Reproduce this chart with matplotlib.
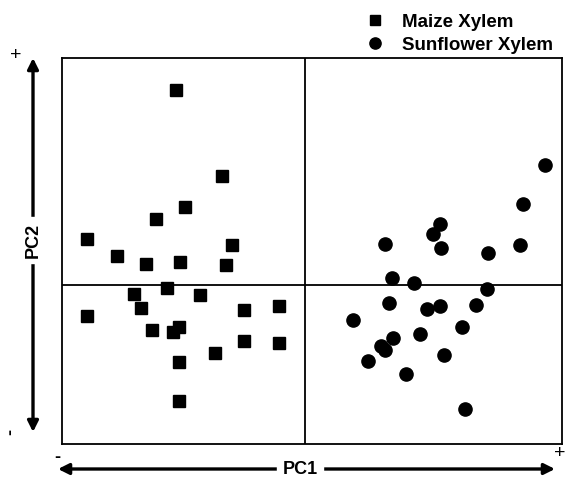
import matplotlib.pyplot as plt

plt.rcParams['font.family'] = ['Liberation Sans', 'DejaVu Sans']

# PCA scores (arbitrary units, origin at the crossing lines)
maize_pc1 = [-2.58, -1.66, -2.41, -2.99, -4.37, -1.46, -3.77, -3.19, -2.51, -1.58,
             -2.76, -3.42, -2.10, -3.29, -4.37, -1.22, -0.53, -3.06, -2.52, -2.65,
             -1.22, -0.53, -1.81, -2.53, -2.53]
maize_pc2 = [3.91, 2.19, 1.56, 1.33, 0.93, 0.81, 0.59, 0.42, 0.46, 0.41,
             -0.05, -0.17, -0.19, -0.45, -0.61, -0.49, -0.41, -0.90, -0.84, -0.93,
             -1.11, -1.15, -1.35, -1.54, -2.31]

sun_pc1 = [4.79, 4.36, 2.70, 2.55, 1.59, 2.72, 3.66, 4.29, 1.74, 2.18,
           3.64, 1.67, 2.44, 2.69, 3.41, 0.96, 3.14, 2.29, 1.76, 1.51,
           1.60, 2.77, 1.25, 2.02, 3.19]
sun_pc2 = [2.41, 1.63, 1.23, 1.03, 0.83, 0.75, 0.65, 0.80, 0.14, 0.05,
           -0.08, -0.35, -0.48, -0.41, -0.39, -0.69, -0.83, -0.98, -1.05, -1.21,
           -1.29, -1.39, -1.51, -1.77, -2.47]

fig = plt.figure(figsize=(5.67, 4.79), dpi=100)
ax = fig.add_axes([62/567, 35/479, 500/567, 386/479])

ax.plot(maize_pc1, maize_pc2, 's', color='black', ms=8, label='Maize Xylem')
ax.plot(sun_pc1, sun_pc2, 'o', color='black', ms=9.5, label='Sunflower Xylem')
ax.axhline(0, color='black', lw=1.3)
ax.axvline(0, color='black', lw=1.3)
ax.set_xlim(-4.86, 5.14)
ax.set_ylim(-3.18, 4.54)
ax.set_xticks([])
ax.set_yticks([])
for s in ax.spines.values():
    s.set_linewidth(1.3)

fig.legend(loc='upper right', bbox_to_anchor=(560/567, 1 - 6/479), frameon=False,
           prop={'weight': 'bold', 'size': 13.5}, handletextpad=0.8,
           labelspacing=0.32, handlelength=1.2, borderaxespad=0,
           markerscale=0.85)

arrow = dict(arrowstyle='<|-|>', color='black', lw=2.4, mutation_scale=16,
             shrinkA=0, shrinkB=0)
# PC2 axis arrow (left)
ax.annotate('', xy=(33, 479 - 58), xytext=(33, 479 - 432),
            xycoords='figure pixels', textcoords='figure pixels', arrowprops=arrow)
fig.text(33/567, 1 - 240/479, 'PC2', rotation=90, ha='center', va='center',
         fontsize=13, fontweight='bold', backgroundcolor='white')
fig.text(16/567, 1 - 55/479, '+', ha='center', va='center', fontsize=14)
fig.text(11/567, 1 - 432/479, '-', rotation=90, ha='center', va='center',
         fontsize=13, fontweight='bold')

# PC1 axis arrow (bottom)
ax.annotate('', xy=(58, 10), xytext=(555, 10),
            xycoords='figure pixels', textcoords='figure pixels', arrowprops=arrow)
fig.text(300/567, 10/479, 'PC1', ha='center', va='center',
         fontsize=13, fontweight='bold', backgroundcolor='white')
fig.text(57/567, 1 - 457/479, '-', ha='center', va='center', fontsize=13,
         fontweight='bold')
fig.text(560/567, 1 - 454/479, '+', ha='center', va='center', fontsize=14)

fig.savefig('out.png', dpi=100)
